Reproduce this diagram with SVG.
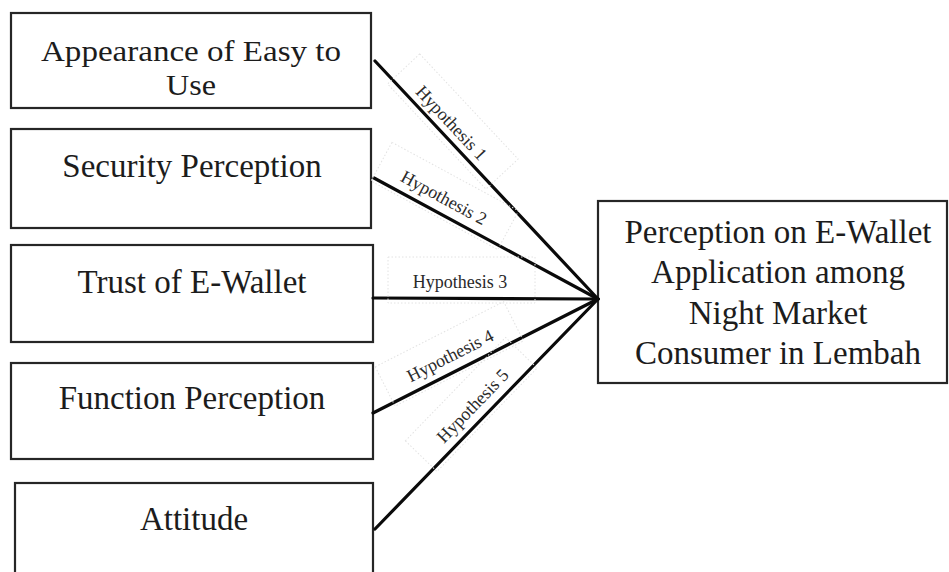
<svg xmlns="http://www.w3.org/2000/svg" width="949" height="572" viewBox="0 0 949 572">
  <style>
    .box { fill: #ffffff; stroke: #262626; stroke-width: 2.2; }
    .label { font-family: "Liberation Serif", "Times New Roman", serif; font-size: 33px; fill: #1c1c1c; text-anchor: middle; }
    .tight { font-size: 30px; }
    .hyp { font-family: "Liberation Serif", "Times New Roman", serif; font-size: 18px; fill: #2a2a2a; text-anchor: middle; }
    .edge { stroke: #0a0a0a; stroke-width: 3.2; fill: none; stroke-linecap: round; }
    .tbox { fill: none; stroke: #e2e2e2; stroke-width: 1; stroke-dasharray: 1.5 2; }
  </style>
  <rect width="949" height="572" fill="#ffffff"/>

  <g id="node-easy-to-use">
    <rect class="box" x="11" y="13" width="360" height="95"/>
    <text class="label tight" x="191" y="61" textLength="300" lengthAdjust="spacingAndGlyphs">Appearance of Easy to</text>
    <text class="label tight" x="191" y="95" textLength="50" lengthAdjust="spacingAndGlyphs">Use</text>
  </g>

  <g id="node-security">
    <rect class="box" x="11" y="129" width="360" height="99"/>
    <text class="label" x="192" y="177">Security Perception</text>
  </g>

  <g id="node-trust">
    <rect class="box" x="11" y="245" width="362" height="97"/>
    <text class="label" x="192" y="293">Trust of E-Wallet</text>
  </g>

  <g id="node-function">
    <rect class="box" x="11" y="363" width="362" height="96"/>
    <text class="label" x="192" y="409">Function Perception</text>
  </g>

  <g id="node-attitude">
    <rect class="box" x="15" y="483" width="358" height="100"/>
    <text class="label" x="194" y="530">Attitude</text>
  </g>

  <g id="node-perception">
    <rect class="box" x="598" y="201" width="349" height="182"/>
    <text class="label" x="778" y="243">Perception on E-Wallet<tspan x="778" dy="40">Application among</tspan><tspan x="778" dy="41">Night Market</tspan><tspan x="778" dy="40">Consumer in Lembah</tspan></text>
  </g>

  <g id="connectors">
    <line class="edge" x1="375" y1="61" x2="598" y2="299"/>
    <line class="edge" x1="374" y1="178" x2="598" y2="299"/>
    <line class="edge" x1="373" y1="298" x2="598" y2="299"/>
    <line class="edge" x1="373" y1="413" x2="598" y2="299"/>
    <line class="edge" x1="375" y1="529" x2="598" y2="299"/>

    <g transform="translate(447,127) rotate(46.9)">
      <rect class="tbox" x="-72" y="-30" width="144" height="44"/>
      <text class="hyp" x="0" y="0">Hypothesis 1</text>
    </g>
    <g transform="translate(441,203) rotate(28.4)">
      <rect class="tbox" x="-72" y="-30" width="144" height="44"/>
      <text class="hyp" x="0" y="0">Hypothesis 2</text>
    </g>
    <g transform="translate(460,288)">
      <rect class="tbox" x="-72" y="-31" width="147" height="46"/>
      <text class="hyp" x="0" y="0">Hypothesis 3</text>
    </g>
    <g transform="translate(453,361) rotate(-26.9)">
      <rect class="tbox" x="-72" y="-30" width="144" height="44"/>
      <text class="hyp" x="0" y="0">Hypothesis 4</text>
    </g>
    <g transform="translate(477,410) rotate(-45.9)">
      <rect class="tbox" x="-72" y="-30" width="144" height="44"/>
      <text class="hyp" x="0" y="0">Hypothesis 5</text>
    </g>
  </g>
</svg>
